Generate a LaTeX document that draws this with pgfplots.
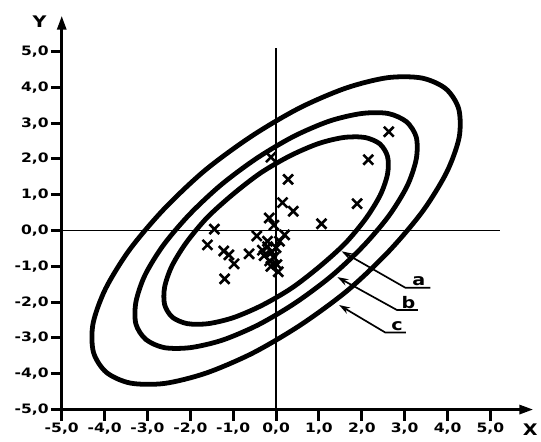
\documentclass[border=0pt]{standalone}
\usepackage{fontspec}
\setmainfont{DejaVu Sans}[FakeStretch=1.2]
\usepackage{pgfplots}
\usepackage{pgfplotstable}
\pgfplotsset{compat=1.18}
\usetikzlibrary{arrows.meta}

% inner ellipse (a)
\pgfplotstableread{
x y
2.42 2.42
2.07 2.60
1.58 2.60
0.99 2.43
0.33 2.09
-0.36 1.61
-1.01 1.01
-1.61 0.36
-2.09 -0.33
-2.43 -0.99
-2.60 -1.58
-2.60 -2.07
-2.42 -2.42
-2.07 -2.60
-1.58 -2.60
-0.99 -2.43
-0.33 -2.09
0.36 -1.61
1.01 -1.01
1.61 -0.36
2.09 0.33
2.43 0.99
2.60 1.58
2.60 2.07
}\ellA

% middle ellipse (b)
\pgfplotstableread{
x y
3.04 3.04
2.61 3.27
2.00 3.27
1.25 3.06
0.41 2.63
-0.45 2.02
-1.28 1.28
-2.02 0.45
-2.63 -0.41
-3.06 -1.25
-3.27 -2.00
-3.27 -2.61
-3.04 -3.04
-2.61 -3.27
-2.00 -3.27
-1.25 -3.06
-0.41 -2.63
0.45 -2.02
1.28 -1.28
2.02 -0.45
2.63 0.41
3.06 1.25
3.27 2.00
3.27 2.61
}\ellB

% outer ellipse (c)
\pgfplotstableread{
x y
3.96 3.96
3.40 4.26
2.60 4.27
1.63 3.98
0.54 3.42
-0.58 2.63
-1.67 1.67
-2.63 0.58
-3.42 -0.54
-3.98 -1.63
-4.27 -2.60
-4.26 -3.40
-3.96 -3.96
-3.40 -4.26
-2.60 -4.27
-1.63 -3.98
-0.54 -3.42
0.58 -2.63
1.67 -1.67
2.63 -0.58
3.42 0.54
3.98 1.63
4.27 2.60
4.26 3.40
}\ellC

% measured points
\pgfplotstableread{
x y
-0.12 2.05
0.28 1.43
0.15 0.78
0.40 0.54
-0.16 0.35
-0.05 0.15
1.06 0.19
-1.44 0.04
-1.60 -0.40
-1.22 -0.57
-1.10 -0.68
-0.63 -0.65
-0.98 -0.93
-1.20 -1.35
-0.45 -0.15
0.20 -0.12
0.08 -0.30
-0.20 -0.30
-0.20 -0.45
-0.10 -0.60
-0.28 -0.70
-0.15 -0.85
-0.05 -0.75
-0.32 -0.55
0.00 -0.48
-0.12 -1.00
0.02 -0.95
0.05 -1.15
2.63 2.76
2.15 1.98
1.89 0.75
}\pts

\begin{document}
\begin{tikzpicture}
\begin{axis}[
    scale only axis,
    width=473pt, height=395pt,
    xmin=-5, xmax=6, ymin=-5, ymax=6,
    axis lines=left,
    axis line style={line width=3pt, -{Triangle[length=14pt,width=9pt]}},
    xtick={-5,...,5}, ytick={-5,...,5},
    tick align=outside,
    major tick length=11pt,
    tick style={black, line width=3pt},
    tick label style={font=\fontsize{13}{15}\selectfont\bfseries},
    xticklabel style={inner sep=2pt},
    yticklabel style={inner sep=2pt},
    /pgf/number format/assume math mode=true,
    /pgf/number format/use comma,
    /pgf/number format/fixed,
    /pgf/number format/fixed zerofill,
    /pgf/number format/precision=1,
    clip=false,
]
    \addplot[line width=1.4pt] coordinates {(-5,0) (5.23,0)};
    \addplot[line width=1.8pt] coordinates {(0,-5) (0,5.1)};

    \addplot[line width=4.8pt, smooth cycle] table {\ellA};
    \addplot[line width=4.8pt, smooth cycle] table {\ellB};
    \addplot[line width=4.8pt, smooth cycle] table {\ellC};

    \addplot[only marks, mark=x, mark size=7pt, line width=2.6pt] table {\pts};

    % labels of the curves
    \draw[line width=1.7pt, -{Stealth[length=11pt,width=7pt]}]
        (axis cs:3.60,-1.60) -- (axis cs:3.02,-1.60) -- (axis cs:1.53,-0.58);
    \draw[line width=1.7pt, -{Stealth[length=11pt,width=7pt]}]
        (axis cs:3.31,-2.22) -- (axis cs:2.82,-2.22) -- (axis cs:1.43,-1.30);
    \draw[line width=1.7pt, -{Stealth[length=11pt,width=7pt]}]
        (axis cs:3.03,-2.85) -- (axis cs:2.55,-2.85) -- (axis cs:1.47,-2.08);
    \node[font=\fontsize{16}{18}\selectfont\bfseries, anchor=south, inner sep=1.5pt]
        at (axis cs:3.33,-1.60) {a};
    \node[font=\fontsize{16}{18}\selectfont\bfseries, anchor=south, inner sep=1.5pt]
        at (axis cs:3.09,-2.22) {b};
    \node[font=\fontsize{16}{18}\selectfont\bfseries, anchor=south, inner sep=1.5pt]
        at (axis cs:2.82,-2.85) {c};

    \node[font=\fontsize{16}{18}\selectfont\bfseries] at (axis cs:-5.52,5.83) {Y};
    \node[font=\fontsize{16}{18}\selectfont\bfseries] at (axis cs:5.93,-5.55) {X};

    \coordinate (bl) at (axis cs:-6.44,-5.89);
    \coordinate (tr) at (axis cs:6.14,6.44);
\end{axis}
\path (bl) rectangle (tr);
\end{tikzpicture}
\end{document}
